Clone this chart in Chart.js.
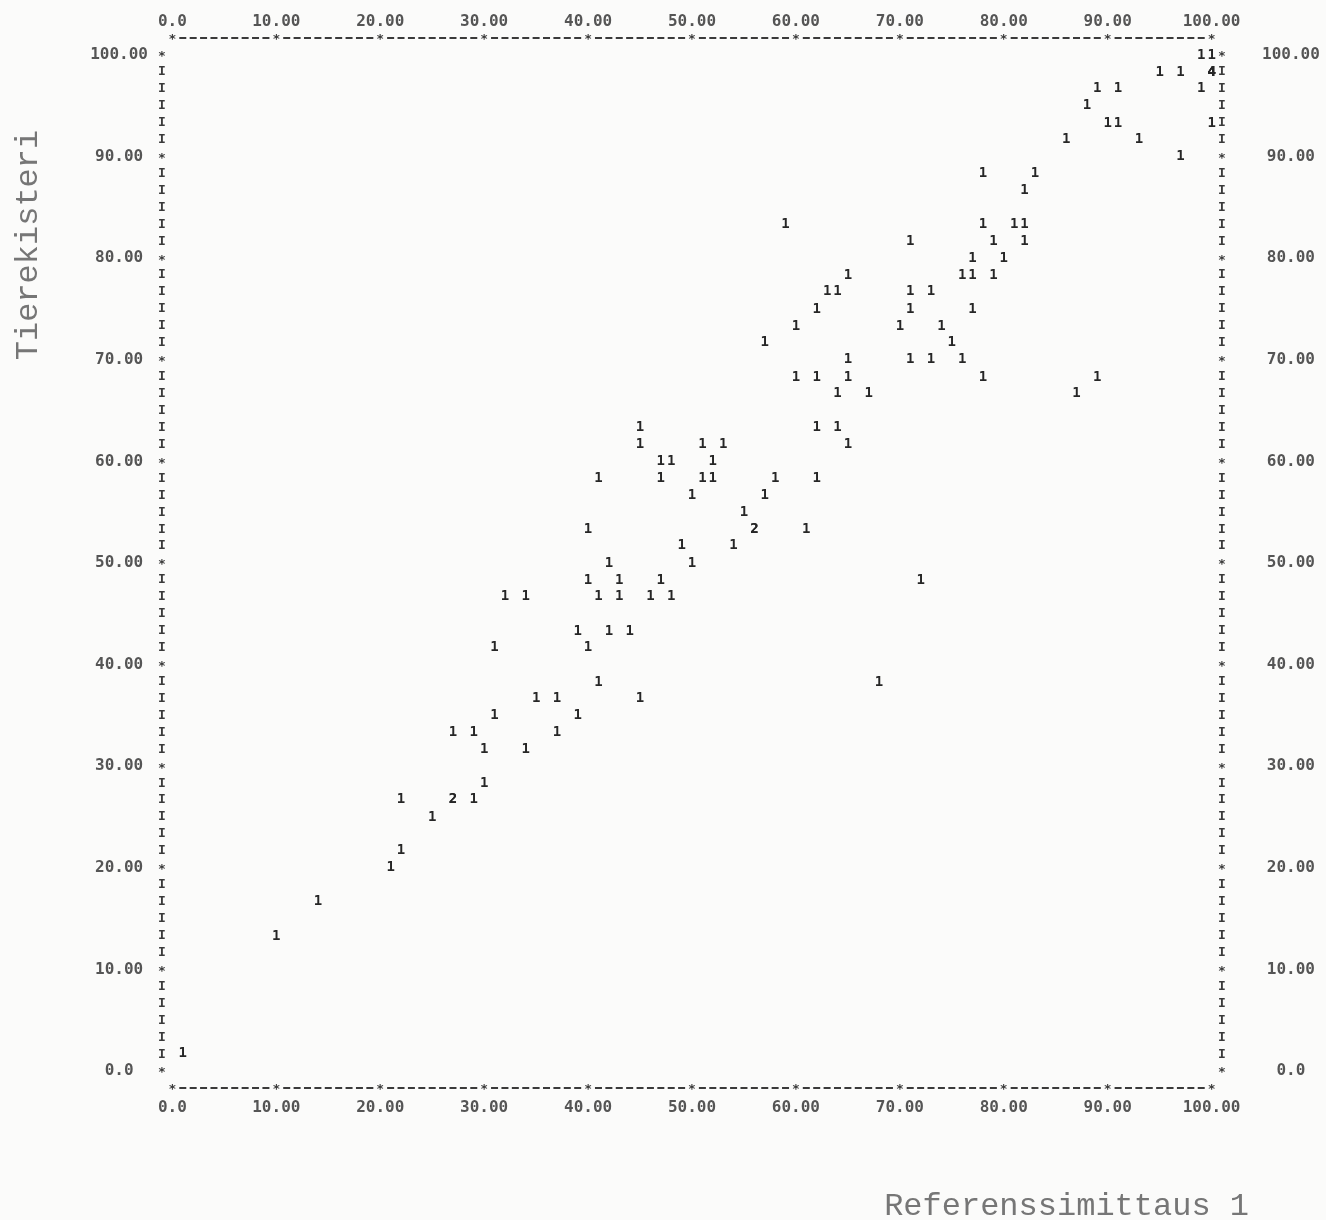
<!DOCTYPE html>
<html>
<head>
<meta charset="utf-8">
<script src="https://cdn.jsdelivr.net/npm/chart.js@4.4.0/dist/chart.umd.min.js"></script>
<style>
  html, body { margin: 0; padding: 0; background: #fbfbfa; }
  #kuva { display: block; }
</style>
</head>
<body>
<canvas id="kuva" width="1326" height="1220"></canvas>
<script>
// Havainnot tulostinrivi kerrallaan (x = referenssimittaus, y = tierekisteri)
const referenssi = [
  99, 100,
  95, 97, 100, 100, 100, 100,
  89, 91, 99,
  88,
  90, 91, 100,
  86, 93,
  97,
  78, 83,
  82,
  59, 78, 81, 82,
  71, 79, 82,
  77, 80,
  65, 76, 77, 79,
  63, 64, 71, 73,
  62, 71, 77,
  60, 70, 74,
  57, 75,
  65, 71, 73, 76,
  60, 62, 65, 78, 89,
  64, 67, 87,
  45, 62, 64,
  45, 51, 53, 65,
  47, 48, 52,
  41, 47, 51, 52, 58, 62,
  50, 57,
  55,
  40, 56, 56, 61,
  49, 54,
  42, 50,
  40, 43, 47, 72,
  32, 34, 41, 43, 46, 48,
  39, 42, 44,
  31, 40,
  41, 68,
  35, 37, 45,
  31, 39,
  27, 29, 37,
  30, 34,
  30,
  22, 27, 27, 29,
  25,
  22,
  21,
  14,
  10,
  1
];
const tierekisteri = [
  100, 100,
  98.3, 98.3, 98.3, 98.3, 98.3, 98.3,
  96.7, 96.7, 96.7,
  95,
  93.3, 93.3, 93.3,
  91.7, 91.7,
  90,
  88.3, 88.3,
  86.7,
  83.3, 83.3, 83.3, 83.3,
  81.7, 81.7, 81.7,
  80, 80,
  78.3, 78.3, 78.3, 78.3,
  76.7, 76.7, 76.7, 76.7,
  75, 75, 75,
  73.3, 73.3, 73.3,
  71.7, 71.7,
  70, 70, 70, 70,
  68.3, 68.3, 68.3, 68.3, 68.3,
  66.7, 66.7, 66.7,
  63.3, 63.3, 63.3,
  61.7, 61.7, 61.7, 61.7,
  60, 60, 60,
  58.3, 58.3, 58.3, 58.3, 58.3, 58.3,
  56.7, 56.7,
  55,
  53.3, 53.3, 53.3, 53.3,
  51.7, 51.7,
  50, 50,
  48.3, 48.3, 48.3, 48.3,
  46.7, 46.7, 46.7, 46.7, 46.7, 46.7,
  43.3, 43.3, 43.3,
  41.7, 41.7,
  38.3, 38.3,
  36.7, 36.7, 36.7,
  35, 35,
  33.3, 33.3, 33.3,
  31.7, 31.7,
  28.3,
  26.7, 26.7, 26.7, 26.7,
  25,
  21.7,
  20,
  16.7,
  13.3,
  1.7
];
const asteikko = [0, 10, 20, 30, 40, 50, 60, 70, 80, 90, 100];

// Tulostimen ruudukko: sarake = 1 yksikko, rivi = 10/6 yksikkoa
const riviKorkeus = 10 / 6;
const ruutu = (x, y) => Math.round(x) + ':' + Math.round(y / riviKorkeus);
const lukumaarat = {};
referenssi.forEach((x, i) => {
  const k = ruutu(x, tierekisteri[i]);
  lukumaarat[k] = (lukumaarat[k] || 0) + 1;
});

const pisteet = referenssi.map((x, i) => ({ x: x, y: tierekisteri[i] }));

const tikkiFontti = { family: '"DejaVu Sans Mono", monospace', size: 16, weight: 'bold' };
const tikkiVari = '#555555';
const muotoile = v => (v === 0 ? '0.0' : Number(v).toFixed(2));
const omatTikit = s => { s.ticks = asteikko.map(v => ({ value: v })); };

// Piirtaa havainnot tulostinmerkkeina (lukumaara ruudussa)
const merkit = {
  id: 'merkit',
  afterDatasetsDraw(chart) {
    const { ctx } = chart;
    const meta = chart.getDatasetMeta(0);
    ctx.save();
    ctx.font = 'bold 14px "DejaVu Sans Mono"';
    ctx.fillStyle = '#262626';
    ctx.textAlign = 'center';
    ctx.textBaseline = 'middle';
    meta.data.forEach((el, i) => {
      const n = lukumaarat[ruutu(referenssi[i], tierekisteri[i])];
      ctx.fillText(String(n), el.x, el.y);
    });
    ctx.restore();
  }
};

// Akselit viivakirjoittimen tapaan: * ja - vaakasuunnassa, * ja I pystysuunnassa
const akselit = {
  id: 'akselit',
  afterDraw(chart) {
    const { ctx, scales: { x, y } } = chart;
    ctx.save();
    ctx.fillStyle = '#3a3a3a';
    ctx.font = 'bold 13px "DejaVu Sans Mono"';
    ctx.textAlign = 'center';
    ctx.textBaseline = 'middle';
    const yla = y.getPixelForValue(y.max);
    const ala = y.getPixelForValue(y.min);
    for (let c = 0; c <= 100; c++) {
      const px = x.getPixelForValue(c);
      [yla, ala].forEach(py => {
        if (c % 10 === 0) {
          ctx.fillText('*', px, py + 2);
        } else {
          ctx.fillRect(px - 3.5, py - 1, 7, 2);
        }
      });
    }
    const vasen = x.getPixelForValue(x.min);
    const oikea = x.getPixelForValue(x.max);
    for (let r = 0; r <= 60; r++) {
      const py = y.getPixelForValue(100 - r * riviKorkeus);
      const m = r % 6 === 0 ? '*' : 'I';
      const dy = m === '*' ? 2 : 0;
      ctx.fillText(m, vasen, py + dy);
      ctx.fillText(m, oikea, py + dy);
    }

    // Akselien nimet
    ctx.font = '32px "Liberation Mono"';
    ctx.fillStyle = '#767676';
    ctx.textAlign = 'right';
    ctx.textBaseline = 'alphabetic';
    ctx.fillText('Referenssimittaus 1', 1249, 1215);
    ctx.translate(37, 245);
    ctx.rotate(-Math.PI / 2);
    ctx.textAlign = 'center';
    ctx.fillText('Tierekisteri', 0, 0);
    ctx.restore();
  }
};

const akseli = (paikka, lisa) => Object.assign({
  type: 'linear',
  position: paikka,
  afterBuildTicks: omatTikit,
  grid: { display: false, drawTicks: false },
  border: { display: false }
}, lisa);

new Chart(document.getElementById('kuva'), {
  type: 'scatter',
  data: {
    datasets: [{
      label: 'Havainnot',
      data: pisteet,
      pointRadius: 0,
      pointHoverRadius: 0
    }]
  },
  options: {
    responsive: false,
    animation: false,
    layout: { padding: 0 },
    plugins: {
      legend: { display: false },
      tooltip: { enabled: false }
    },
    scales: {
      x: akseli('bottom', {
        min: -1, max: 101,
        afterFit: s => { s.height = 132; },
        ticks: { callback: muotoile, font: tikkiFontti, color: tikkiVari, autoSkip: false, maxRotation: 0, padding: 10 }
      }),
      x2: akseli('top', {
        min: -1, max: 101,
        afterFit: s => { s.height = 38; },
        ticks: { callback: muotoile, font: tikkiFontti, color: tikkiVari, autoSkip: false, maxRotation: 0, padding: 7 }
      }),
      y: akseli('left', {
        min: -riviKorkeus, max: 100 + riviKorkeus,
        afterFit: s => { s.width = 162; },
        grid: { display: false, drawTicks: true, tickLength: 14 },
        ticks: { callback: muotoile, font: tikkiFontti, color: tikkiVari, autoSkip: false, crossAlign: 'center', padding: 0 }
      }),
      y2: akseli('right', {
        min: -riviKorkeus, max: 100 + riviKorkeus,
        afterFit: s => { s.width = 104; },
        grid: { display: false, drawTicks: true, tickLength: 40 },
        ticks: { callback: muotoile, font: tikkiFontti, color: tikkiVari, autoSkip: false, crossAlign: 'center', padding: 0 }
      })
    }
  },
  plugins: [merkit, akselit]
});
</script>
</body>
</html>
